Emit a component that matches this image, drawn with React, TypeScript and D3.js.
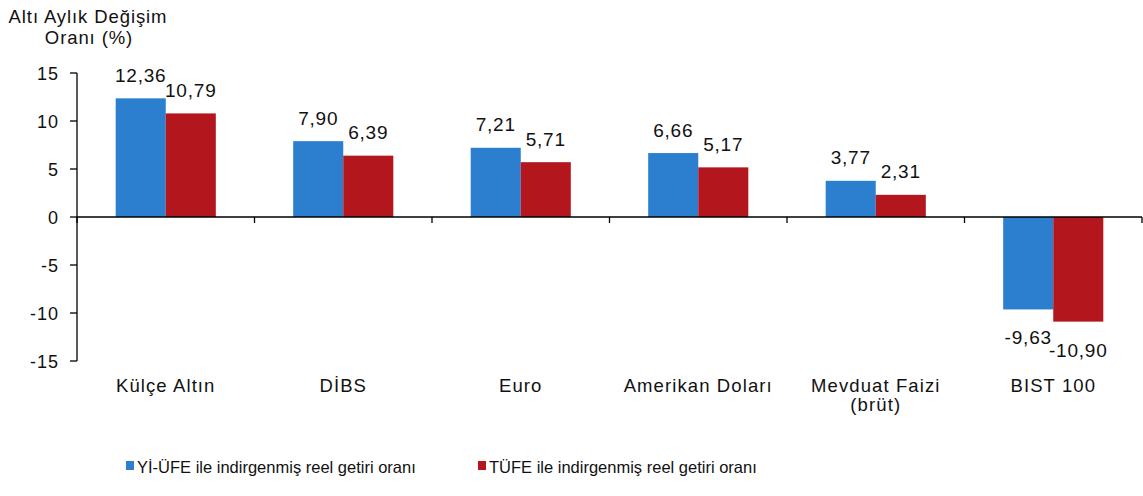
import React from "react";
import * as d3 from "d3";

const categories: string[][] = [["Külçe Altın"], ["DİBS"], ["Euro"], ["Amerikan Doları"], ["Mevduat Faizi", "(brüt)"], ["BIST 100"]];
const yiUfe: number[] = [12.36, 7.9, 7.21, 6.66, 3.77, -9.63];
const tufe: number[] = [10.79, 6.39, 5.71, 5.17, 2.31, -10.9];
const yTicks: number[] = [15, 10, 5, 0, -5, -10, -15];
const seriesNames: string[] = ["Yİ-ÜFE ile indirgenmiş reel getiri oranı", "TÜFE ile indirgenmiş reel getiri oranı"];
const colors = ["#2B7FCE", "#B3161C"];

const W = 1143, H = 496;
const fmt = (v: number) => v.toFixed(2).replace(".", ",");

export default function App() {
  const x0 = 77, x1 = 1142;
  const y = d3.scaleLinear().domain([-15, 15]).range([361, 73]);
  const xBand = d3.scaleBand<number>().domain(d3.range(categories.length)).range([x0, x1]).paddingInner(0).paddingOuter(0);
  const bw = xBand.bandwidth();
  const barW = bw * 0.282;
  const font = "'Liberation Sans', Arial, sans-serif";
  const series = [yiUfe, tufe];
  const txt = "#111";
  return (
    <svg width={W} height={H} style={{ position: "absolute", left: 0, top: 0, background: "#fff" }} fontFamily={font}>
      <text x={88} y={23} fontSize={18.5} letterSpacing={0.9} textAnchor="middle" fill={txt}>Altı Aylık Değişim</text>
      <text x={89} y={44} fontSize={18.5} letterSpacing={0.9} textAnchor="middle" fill={txt}>Oranı (%)</text>
      {/* bars */}
      {series.map((s, si) =>
        s.map((v, i) => {
          const cx = (xBand(i) as number) + bw / 2;
          const bx = cx - barW + si * barW;
          const top = Math.min(y(v), y(0));
          const h = Math.abs(y(v) - y(0));
          const ly = v >= 0 ? y(v) - 16.5 : y(v) + 35;
          return (
            <g key={`${si}-${i}`}>
              <rect x={bx} y={top} width={barW} height={h} fill={colors[si]} />
              <text x={bx + barW / 2} y={ly} fontSize={19} letterSpacing={0.8} textAnchor="middle" fill={txt}>{fmt(v)}</text>
            </g>
          );
        })
      )}
      {/* y axis */}
      <line x1={x0} x2={x0} y1={y(15)} y2={y(-15)} stroke="#000" strokeWidth={1.3} />
      {yTicks.map((t) => (
        <g key={t}>
          <line x1={x0 - 7} x2={x0} y1={y(t)} y2={y(t)} stroke="#000" strokeWidth={1.3} />
          <text x={59} y={y(t) + 7} fontSize={18} letterSpacing={1} textAnchor="end" fill={txt}>{t}</text>
        </g>
      ))}
      {/* zero line */}
      <line x1={x0} x2={x1} y1={y(0)} y2={y(0)} stroke="#000" strokeWidth={1.3} />
      {d3.range(categories.length + 1).map((i) => {
        const tx = i < categories.length ? (xBand(i) as number) : x1;
        return <line key={i} x1={tx} x2={tx} y1={y(0)} y2={y(0) + 6} stroke="#000" strokeWidth={1.3} />;
      })}
      {/* category labels */}
      {categories.map((lines, i) => (
        <text key={i} x={(xBand(i) as number) + bw / 2} y={392} fontSize={18.5} letterSpacing={1.1} textAnchor="middle" fill={txt}>
          {lines.map((l, j) => (
            <tspan key={j} x={(xBand(i) as number) + bw / 2} dy={j === 0 ? 0 : 19}>{l}</tspan>
          ))}
        </text>
      ))}
      {/* legend */}
      {seriesNames.map((n, i) => {
        const lx = i === 0 ? 126 : 478;
        return (
          <g key={n}>
            <rect x={lx} y={461} width={8} height={9} fill={colors[i]} />
            <text x={lx + 11} y={473} fontSize={16.5} fill={txt}>{n}</text>
          </g>
        );
      })}
    </svg>
  );
}
